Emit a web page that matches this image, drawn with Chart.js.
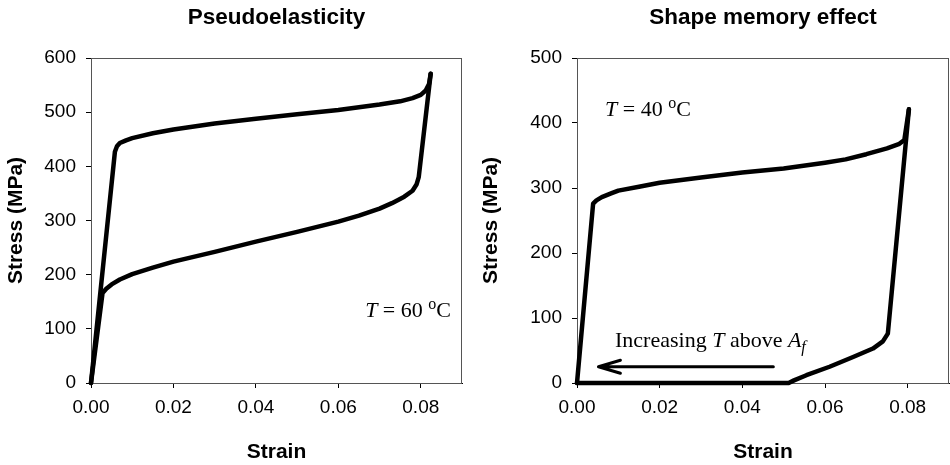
<!DOCTYPE html>
<html>
<head>
<meta charset="utf-8">
<script src="https://cdn.jsdelivr.net/npm/chart.js@4.4.1/dist/chart.umd.min.js"></script>
<style>
  html, body { margin: 0; padding: 0; background: #fff; }
  .panel { position: absolute; top: 0; width: 475px; height: 465px; }
  #left { left: 0; }
  #right { left: 475px; }
</style>
</head>
<body>
<div class="panel" id="left"><canvas id="chartPseudo"></canvas></div>
<div class="panel" id="right"><canvas id="chartShape"></canvas></div>
<script>
// tick values
const strainTicks = [0, 0.02, 0.04, 0.06, 0.08];

// Pseudoelasticity, T = 60 C
const peLoadStrain = [0, 0.0058, 0.0063, 0.0070, 0.0085, 0.010, 0.015, 0.020, 0.030, 0.040, 0.050, 0.060, 0.070, 0.075, 0.078, 0.0800, 0.0812, 0.0820, 0.0824];
const peLoadStress = [0, 427, 437, 443, 448, 452, 461, 468, 479, 488, 496, 504, 514, 520, 526, 532, 540, 552, 571];
const peUnloadStrain = [0.0824, 0.0795, 0.0790, 0.0780, 0.0760, 0.0730, 0.070, 0.065, 0.060, 0.050, 0.040, 0.030, 0.020, 0.015, 0.010, 0.007, 0.005, 0.0037, 0.0028, 0];
const peUnloadStress = [571, 380, 367, 355, 344, 332, 322, 309, 298, 279, 261, 242, 224, 213, 201, 191, 182, 174, 166, 0];

// Shape memory effect, T = 40 C
const smLoadStrain = [0, 0.0039, 0.0047, 0.0060, 0.0084, 0.010, 0.015, 0.020, 0.030, 0.040, 0.050, 0.060, 0.065, 0.070, 0.075, 0.0780, 0.0792, 0.0803];
const smLoadStress = [0, 276, 281, 286, 292, 296, 302, 308, 316, 324, 330, 339, 344, 352, 361, 368, 374, 421];
const smUnloadStrain = [0.0803, 0.0752, 0.0740, 0.0716, 0.0668, 0.0611, 0.0555, 0.0525, 0.0512, 0];
const smUnloadStress = [421, 76, 64, 53, 40, 25, 12, 4, 0, 0];
const arrowStrain = [0.0475, 0.0052, 0.0105, 0.0052, 0.0105];
const arrowStress = [25, 25, 35, 25, 15];

function toPoints(xs, ys) {
  return xs.map((x, i) => ({ x: x, y: ys[i] }));
}

function curve(xs, ys, width) {
  return {
    data: toPoints(xs, ys),
    borderColor: "#000",
    borderWidth: width,
    pointRadius: 0,
    tension: 0,
    borderJoinStyle: "round",
    borderCapStyle: "round",
    clip: 8,
  };
}

// thin box round the plot area
const framePlugin = {
  id: "frame",
  beforeDatasetsDraw(chart) {
    const a = chart.chartArea;
    const ctx = chart.ctx;
    ctx.save();
    ctx.strokeStyle = "#555";
    ctx.lineWidth = 1;
    ctx.strokeRect(a.left + 0.5, a.top + 0.5, a.right - a.left - 1, a.bottom - a.top);
    ctx.restore();
  },
};

// labels with italic / super / subscript pieces
const notesPlugin = {
  id: "notes",
  afterDatasetsDraw(chart, args, opts) {
    const ctx = chart.ctx;
    const sx = chart.scales.x, sy = chart.scales.y;
    ctx.save();
    ctx.fillStyle = "#000";
    ctx.textBaseline = "alphabetic";
    ctx.textAlign = "left";
    (opts.items || []).forEach((item) => {
      let x = sx.getPixelForValue(item.x);
      const y = sy.getPixelForValue(item.y);
      item.parts.forEach((p) => {
        const size = p.size || 22;
        ctx.font = (p.italic ? "italic " : "") + size + "px 'Liberation Serif', 'Times New Roman', serif";
        ctx.fillText(p.t, x, y + (p.dy || 0));
        x += ctx.measureText(p.t).width;
      });
    });
    ctx.restore();
  },
};

function makeOptions(title, yMax, padRight, notes) {
  const tickFont = { family: "Arial, 'Liberation Sans', sans-serif", size: 19 };
  const boldFont = { family: "Arial, 'Liberation Sans', sans-serif", size: 21, weight: "bold" };
  return {
    responsive: true,
    maintainAspectRatio: false,
    animation: false,
    layout: { padding: { left: 0, right: padRight, top: 0, bottom: 0 } },
    plugins: {
      legend: { display: false },
      tooltip: { enabled: false },
      title: {
        display: true,
        text: title,
        fullSize: false,
        color: "#000",
        font: { family: "Arial, 'Liberation Sans', sans-serif", size: 22.5, weight: "bold" },
        padding: { top: 4, bottom: 27 },
      },
      notes: { items: notes },
    },
    scales: {
      x: {
        type: "linear",
        min: 0,
        max: 0.09,
        afterBuildTicks(axis) {
          axis.ticks = strainTicks.map((v) => ({ value: v }));
        },
        afterFit(axis) {
          axis.height = 82;
        },
        ticks: {
          color: "#000",
          font: tickFont,
          padding: 8,
          maxRotation: 0,
          callback: (v) => Number(v).toFixed(2),
        },
        grid: { drawOnChartArea: false, tickLength: 5, color: "#000" },
        border: { color: "#000", width: 1 },
        title: { display: true, text: "Strain", color: "#000", font: boldFont, padding: { top: 0, bottom: 0 } },
      },
      y: {
        type: "linear",
        min: 0,
        max: yMax,
        afterFit(axis) {
          axis.width = padRight > 5 ? 91 : 102;
        },
        ticks: { color: "#000", font: tickFont, stepSize: 100, padding: 10 },
        grid: { drawOnChartArea: false, tickLength: 5, color: "#000" },
        border: { color: "#000", width: 1 },
        title: { display: true, text: "Stress (MPa)", color: "#000", font: boldFont, padding: { top: 4, bottom: 0 } },
      },
    },
  };
}

const chartPseudo = new Chart(document.getElementById("chartPseudo"), {
  type: "line",
  data: {
    datasets: [
      curve(peLoadStrain, peLoadStress, 4.5),
      curve(peUnloadStrain, peUnloadStress, 4.5),
    ],
  },
  options: makeOptions("Pseudoelasticity", 600, 13, [
    {
      x: 0.0665, y: 122,
      parts: [
        { t: "T", italic: true },
        { t: " = 60 " },
        { t: "o", size: 16, dy: -8 },
        { t: "C" },
      ],
    },
  ]),
  plugins: [framePlugin, notesPlugin],
});

const chartShape = new Chart(document.getElementById("chartShape"), {
  type: "line",
  data: {
    datasets: [
      curve(smLoadStrain, smLoadStress, 4.5),
      curve(smUnloadStrain, smUnloadStress, 4.5),
      curve(arrowStrain, arrowStress, 3),
    ],
  },
  options: makeOptions("Shape memory effect", 500, 1, [
    {
      x: 0.0068, y: 411,
      parts: [
        { t: "T", italic: true },
        { t: " = 40 " },
        { t: "o", size: 16, dy: -8 },
        { t: "C" },
      ],
    },
    {
      x: 0.0092, y: 55,
      parts: [
        { t: "Increasing " },
        { t: "T", italic: true },
        { t: " above " },
        { t: "A", italic: true },
        { t: "f", italic: true, size: 16, dy: 5 },
      ],
    },
  ]),
  plugins: [framePlugin, notesPlugin],
});
</script>
</body>
</html>
